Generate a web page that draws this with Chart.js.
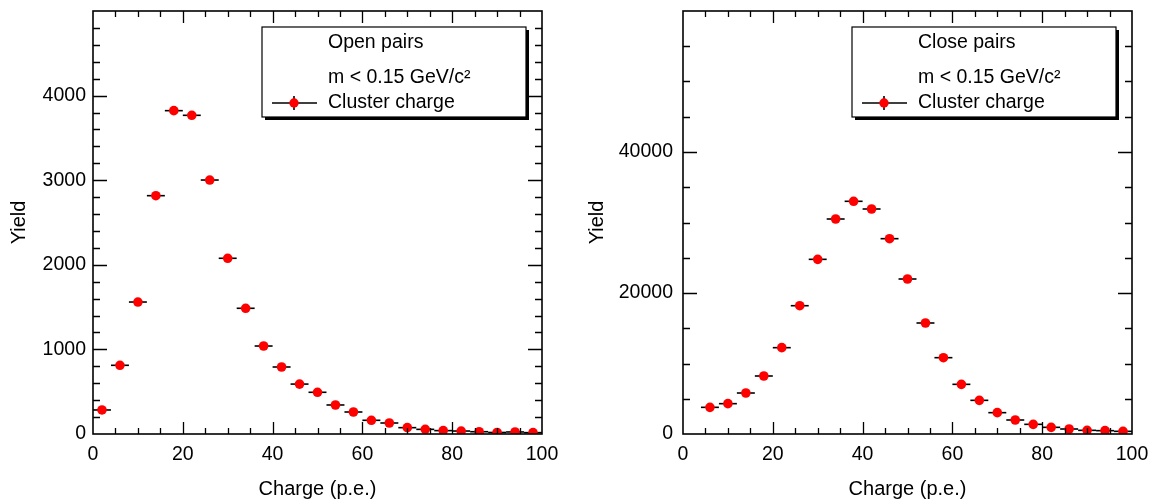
<!DOCTYPE html>
<html>
<head>
<meta charset="utf-8">
<script src="https://cdn.jsdelivr.net/npm/chart.js@4.4.0/dist/chart.umd.min.js"></script>
<style>
  html, body { margin: 0; padding: 0; background: #fff; overflow: hidden; }
  .wrap { position: relative; width: 1154px; height: 499px; }
  .panel { position: absolute; top: 0; width: 577px; height: 499px; }
</style>
</head>
<body>
<div class="wrap">
  <div class="panel" style="left:0"><canvas id="openChart"></canvas></div>
  <div class="panel" style="left:577px"><canvas id="closeChart"></canvas></div>
</div>
<script>
// Open pairs (left panel)
const openCharge = [2, 6, 10, 14, 18, 22, 26, 30, 34, 38, 42, 46, 50, 54, 58, 62, 66, 70, 74, 78, 82, 86, 90, 94, 98];
const openYield = [284, 812, 1560, 2817, 3822, 3767, 3002, 2077, 1486, 1040, 792, 590, 493, 343, 260, 162, 130, 75, 55, 40, 35, 27, 18, 24, 16];

// Close pairs (right panel)
const closeCharge = [6, 10, 14, 18, 22, 26, 30, 34, 38, 42, 46, 50, 54, 58, 62, 66, 70, 74, 78, 82, 86, 90, 94, 98];
const closeYield = [3783, 4303, 5815, 8227, 12245, 18198, 24775, 30496, 33007, 31915, 27705, 21985, 15745, 10826, 7045, 4775, 3026, 1986, 1371, 946, 709, 520, 473, 378];

// bin width is 4 p.e. -> horizontal error of +-2
const binHalfWidth = 2;

// Tick labels
const chargeTicks = [0, 20, 40, 60, 80, 100];
const openYieldTicks = [0, 1000, 2000, 3000, 4000];
const closeYieldTicks = [0, 20000, 40000];

// Legend texts
const openLegend = ['Open pairs', 'm < 0.15 GeV/c\u00B2', 'Cluster charge'];
const closeLegend = ['Close pairs', 'm < 0.15 GeV/c\u00B2', 'Cluster charge'];

const FONT = '"Liberation Sans", Arial, Helvetica, sans-serif';
Chart.defaults.font.family = FONT;
Chart.defaults.font.size = 20;
Chart.defaults.color = '#000';


// horizontal error bars, drawn under the markers
const errorBars = {
    id: 'errorBars',
    beforeDatasetsDraw(chart) {
        const { ctx, scales: { x, y } } = chart;
        ctx.save();
        ctx.strokeStyle = '#000';
        ctx.lineWidth = 1.6;
        chart.data.datasets[0].data.forEach(p => {
            const py = y.getPixelForValue(p.y);
            ctx.beginPath();
            ctx.moveTo(x.getPixelForValue(p.x - binHalfWidth), py);
            ctx.lineTo(x.getPixelForValue(p.x + binHalfWidth), py);
            ctx.stroke();
        });
        ctx.restore();
    }
};

// frame + ROOT style ticks on all four sides
const frameTicks = {
    id: 'frameTicks',
    afterDraw(chart, args, opts) {
        const { ctx, chartArea: a, scales: { x, y } } = chart;
        ctx.save();
        ctx.strokeStyle = '#000';
        ctx.lineWidth = 1.3;
        ctx.beginPath();
        for (let v = x.min + opts.xMinor; v < x.max; v += opts.xMinor) {
            const px = Math.round(x.getPixelForValue(v)) + 0.5;
            const len = v % opts.xMajor === 0 ? 12 : 6;
            ctx.moveTo(px, a.bottom); ctx.lineTo(px, a.bottom - len);
            ctx.moveTo(px, a.top); ctx.lineTo(px, a.top + len);
        }
        for (let v = y.min + opts.yMinor; v < y.max; v += opts.yMinor) {
            const py = Math.round(y.getPixelForValue(v)) + 0.5;
            const len = v % opts.yMajor === 0 ? 14 : 7;
            ctx.moveTo(a.left, py); ctx.lineTo(a.left + len, py);
            ctx.moveTo(a.right, py); ctx.lineTo(a.right - len, py);
        }
        ctx.stroke();
        ctx.lineWidth = 1.6;
        ctx.strokeRect(a.left, a.top, a.right - a.left, a.bottom - a.top);
        ctx.restore();
    }
};

// ROOT style legend box with shadow
const boxLegend = {
    id: 'boxLegend',
    afterDraw(chart, args, opts) {
        const { ctx, chartArea: a } = chart;
        const w = 264, h = 90;
        const bx = a.right - 16 - w;
        const by = a.top + 16;
        ctx.save();
        ctx.fillStyle = '#000';
        ctx.fillRect(bx + 3, by + 3, w, h);
        ctx.fillStyle = '#fff';
        ctx.fillRect(bx, by, w, h);
        ctx.strokeStyle = '#000';
        ctx.lineWidth = 1.2;
        ctx.strokeRect(bx, by, w, h);

        ctx.font = '19.5px ' + FONT;
        ctx.fillStyle = '#000';
        ctx.textBaseline = 'middle';
        ctx.textAlign = 'left';
        ctx.fillText(opts.lines[0], bx + 66, by + 16);
        ctx.fillText(opts.lines[1], bx + 66, by + 51);
        ctx.fillText(opts.lines[2], bx + 66, by + 76);

        // marker sample
        const mx = bx + 32, my = by + 76;
        ctx.lineWidth = 1.6;
        ctx.beginPath();
        ctx.moveTo(bx + 10, my); ctx.lineTo(bx + 55, my);
        ctx.moveTo(mx, my - 7); ctx.lineTo(mx, my + 7);
        ctx.stroke();
        ctx.fillStyle = '#ff0000';
        ctx.beginPath();
        ctx.arc(mx, my, 4.7, 0, Math.PI * 2);
        ctx.fill();
        ctx.restore();
    }
};


function makeChart(id, charge, yields, yTicks, yMax, yMajor, yMinor, yAxisWidth, padRight, yLabelPad, yTitlePad, legendLines) {
    const points = charge.map((c, i) => ({ x: c, y: yields[i] }));

    return new Chart(document.getElementById(id), {
        type: 'scatter',
        data: {
            datasets: [{
                label: 'Cluster charge',
                data: points,
                backgroundColor: '#ff0000',
                borderWidth: 0,
                pointRadius: 4.8,
                pointHoverRadius: 4.8
            }]
        },
        options: {
            responsive: true,
            maintainAspectRatio: false,
            animation: false,
            layout: { padding: { left: 0, top: 11, right: padRight, bottom: 0 } },
            scales: {
                x: {
                    type: 'linear',
                    min: 0,
                    max: 100,
                    afterBuildTicks: scale => { scale.ticks = chargeTicks.map(v => ({ value: v })); },
                    afterFit: scale => {
                        scale.height = 65;
                        scale.paddingLeft = 0;
                        scale.paddingRight = 0;
                    },
                    grid: { display: false, drawTicks: false },
                    border: { display: false },
                    ticks: { padding: 9, maxRotation: 0, font: { size: 19.5 }, callback: v => String(v) },
                    title: { display: true, text: 'Charge (p.e.)', font: { size: 20, lineHeight: 1 }, padding: { top: 0, bottom: 0 } }
                },
                y: {
                    type: 'linear',
                    min: 0,
                    max: yMax,
                    afterBuildTicks: scale => { scale.ticks = yTicks.map(v => ({ value: v })); },
                    afterFit: scale => {
                        scale.width = yAxisWidth;
                        scale.paddingTop = 0;
                        scale.paddingBottom = 0;
                    },
                    grid: { display: false, drawTicks: false },
                    border: { display: false },
                    ticks: { padding: yLabelPad, font: { size: 19.5 }, callback: v => String(v) },
                    title: { display: true, text: 'Yield', font: { size: 20 }, padding: { top: yTitlePad, bottom: 0 } }
                }
            },
            plugins: {
                legend: { display: false },
                tooltip: { enabled: false },
                frameTicks: { xMajor: 20, xMinor: 5, yMajor: yMajor, yMinor: yMinor },
                boxLegend: { lines: legendLines }
            }
        },
        plugins: [errorBars, frameTicks, boxLegend]
    });
}

makeChart('openChart', openCharge, openYield, openYieldTicks, 5000, 1000, 200, 93, 35, 7, 7, openLegend);
makeChart('closeChart', closeCharge, closeYield, closeYieldTicks, 60000, 20000, 5000, 106, 22, 10, 8, closeLegend);
</script>
</body>
</html>
